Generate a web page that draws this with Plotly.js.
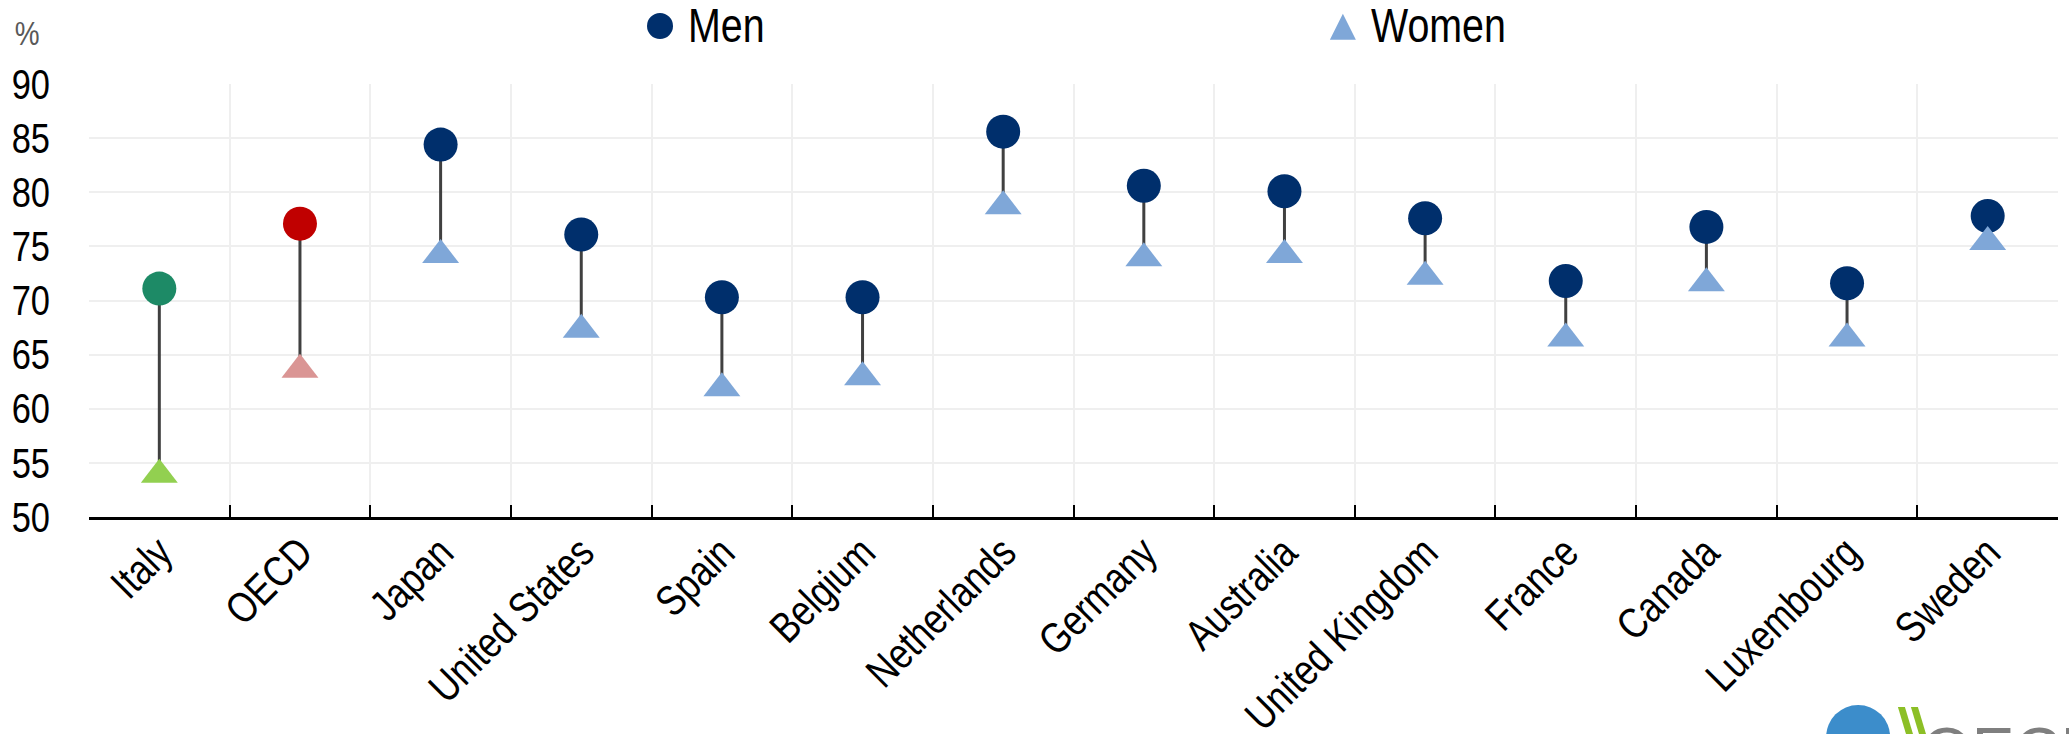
<!DOCTYPE html>
<html>
<head>
<meta charset="utf-8">
<script src="https://cdn.plot.ly/plotly-3.0.1.min.js"></script>
<style>
  html, body { margin: 0; padding: 0; background: #ffffff; }
  #chart { width: 2069px; height: 734px; }
</style>
</head>
<body>
<div id="chart"></div>
<script>
// ---- Data ----
const countries = ["Italy", "OECD", "Japan", "United States", "Spain", "Belgium", "Netherlands",
                   "Germany", "Australia", "United Kingdom", "France", "Canada", "Luxembourg", "Sweden"];
const menValues   = [71.1, 77.1, 84.4, 76.1, 70.3, 70.3, 85.6, 80.6, 80.1, 77.6, 71.8, 76.8, 71.6, 77.8];
const womenValues = [53.9, 63.6, 74.2, 67.3, 61.9, 62.9, 78.7, 73.9, 74.2, 72.2, 66.5, 71.6, 66.5, 75.4];
const seriesNames = ["Men", "Women"];
const yTicks = [50, 55, 60, 65, 70, 75, 80, 85, 90];

// ---- Styles ----
const FONT = "'Liberation Sans Narrow', 'Arial Narrow', 'Liberation Sans', Arial, sans-serif";
const NARROW = 0.82; // horizontal condensing to mimic a narrow typeface
const MEN_COLOR = "#002F6C";
const WOMEN_COLOR = "#7FA7D8";
const highlightMen = { "Italy": "#1D8A66", "OECD": "#C00000" };
const highlightWomen = { "Italy": "#92D050", "OECD": "#DA9594" };

const menColors = countries.map(c => highlightMen[c] || MEN_COLOR);
const womenColors = countries.map(c => highlightWomen[c] || WOMEN_COLOR);

// stems built from the data
const stemX = [], stemY = [];
countries.forEach((c, i) => {
  stemX.push(c, c, null);
  stemY.push(menValues[i], womenValues[i], null);
});

const traces = [
  {
    type: "scatter", mode: "lines", x: stemX, y: stemY,
    line: { color: "#404040", width: 3 },
    hoverinfo: "skip", showlegend: false
  },
  {
    type: "scatter", mode: "markers", name: seriesNames[0],
    x: countries, y: menValues,
    marker: { symbol: "circle", size: 34, color: menColors, line: { width: 0 } },
    showlegend: false
  },
  {
    type: "scatter", mode: "markers", name: seriesNames[1],
    x: countries, y: womenValues,
    marker: { symbol: "triangle-up", size: 32, color: womenColors, line: { width: 0 } },
    showlegend: false
  }
];

const layout = {
  width: 2069, height: 734,
  margin: { l: 89, r: 11, t: 84, b: 217, pad: 0 },
  paper_bgcolor: "#ffffff", plot_bgcolor: "#ffffff",
  font: { family: FONT, color: "#000000", size: 42 },
  showlegend: false,
  xaxis: {
    type: "category",
    categoryorder: "array", categoryarray: countries,
    range: [-0.5, countries.length - 0.5],
    tickson: "boundaries",
    ticks: "inside", ticklen: 12, tickwidth: 2, tickcolor: "#000000",
    showline: true, linecolor: "#000000", linewidth: 3,
    showgrid: true, gridcolor: "#EFEFEF", gridwidth: 2,
    tickangle: -45,
    ticklabelshift: 0,
    ticklabelstandoff: -10,
    tickfont: { family: FONT, size: 43, color: "#000000" },
    fixedrange: true
  },
  yaxis: {
    range: [50, 90],
    tickmode: "array", tickvals: yTicks, ticktext: yTicks.map(String),
    showgrid: true, gridcolor: "#EFEFEF", gridwidth: 2,
    zeroline: false, showline: false, ticks: "",
    ticklabelstandoff: 38,
    tickfont: { family: FONT, size: 42, color: "#000000" },
    fixedrange: true
  },
  shapes: [
    // legend symbols
    { type: "circle", xref: "paper", yref: "paper",
      xsizemode: "pixel", ysizemode: "pixel", xanchor: 0.29, yanchor: 1.134,
      x0: -13, x1: 13, y0: -13, y1: 13,
      fillcolor: MEN_COLOR, line: { width: 0 } },
    { type: "path", xref: "paper", yref: "paper",
      xsizemode: "pixel", ysizemode: "pixel", xanchor: 0.6368, yanchor: 1.132,
      path: "M-13,-13 L13,-13 L0,13 Z",
      fillcolor: WOMEN_COLOR, line: { width: 0 } },
    // OECD logo (partially cut by the bottom edge)
    { type: "circle", xref: "paper", yref: "paper",
      xsizemode: "pixel", ysizemode: "pixel", xanchor: 0.8985, yanchor: -0.508,
      x0: -32, x1: 32, y0: -32, y1: 32,
      fillcolor: "#3C8DCB", line: { width: 0 } },
    { type: "path", xref: "paper", yref: "paper",
      xsizemode: "pixel", ysizemode: "pixel", xanchor: 0.9187, yanchor: -0.439,
      path: "M0,0 L7,0 L16,-30 L9,-30 Z",
      fillcolor: "#8CBF26", line: { width: 0 } },
    { type: "path", xref: "paper", yref: "paper",
      xsizemode: "pixel", ysizemode: "pixel", xanchor: 0.9187, yanchor: -0.439,
      path: "M13,0 L20,0 L29,-30 L22,-30 Z",
      fillcolor: "#8CBF26", line: { width: 0 } }
  ],
  annotations: [
    { text: seriesNames[0], xref: "paper", yref: "paper", x: 0.3032, y: 1.134,
      xanchor: "left", yanchor: "middle", align: "left", showarrow: false,
      font: { family: FONT, size: 48, color: "#000000" } },
    { text: seriesNames[1], xref: "paper", yref: "paper", x: 0.650, y: 1.134,
      xanchor: "left", yanchor: "middle", align: "left", showarrow: false,
      font: { family: FONT, size: 48, color: "#000000" } },
    { text: "%", xref: "paper", yref: "paper", x: -0.0315, y: 1.118,
      xanchor: "center", yanchor: "middle", showarrow: false,
      font: { family: FONT, size: 34, color: "#595959" } },
    { text: "OECD", xref: "paper", yref: "paper", x: 0.9297, y: -0.452,
      xanchor: "left", yanchor: "top", showarrow: false,
      font: { family: "'Liberation Sans', Arial, sans-serif", size: 64, color: "#7F7F7F" } }
  ]
};

Plotly.newPlot("chart", traces, layout, { staticPlot: true, displayModeBar: false }).then(gd => {
  // Condense text horizontally (no narrow typeface available offline)
  const sel = gd.querySelectorAll(".xtick text, .ytick text, .annotation-text");
  sel.forEach(t => {
    if (t.textContent === "OECD" && t.classList.contains("annotation-text")) return;
    const len = t.getComputedTextLength();
    if (len > 0) {
      t.setAttribute("textLength", (len * NARROW).toFixed(2));
      t.setAttribute("lengthAdjust", "spacingAndGlyphs");
    }
  });
});
</script>
</body>
</html>
